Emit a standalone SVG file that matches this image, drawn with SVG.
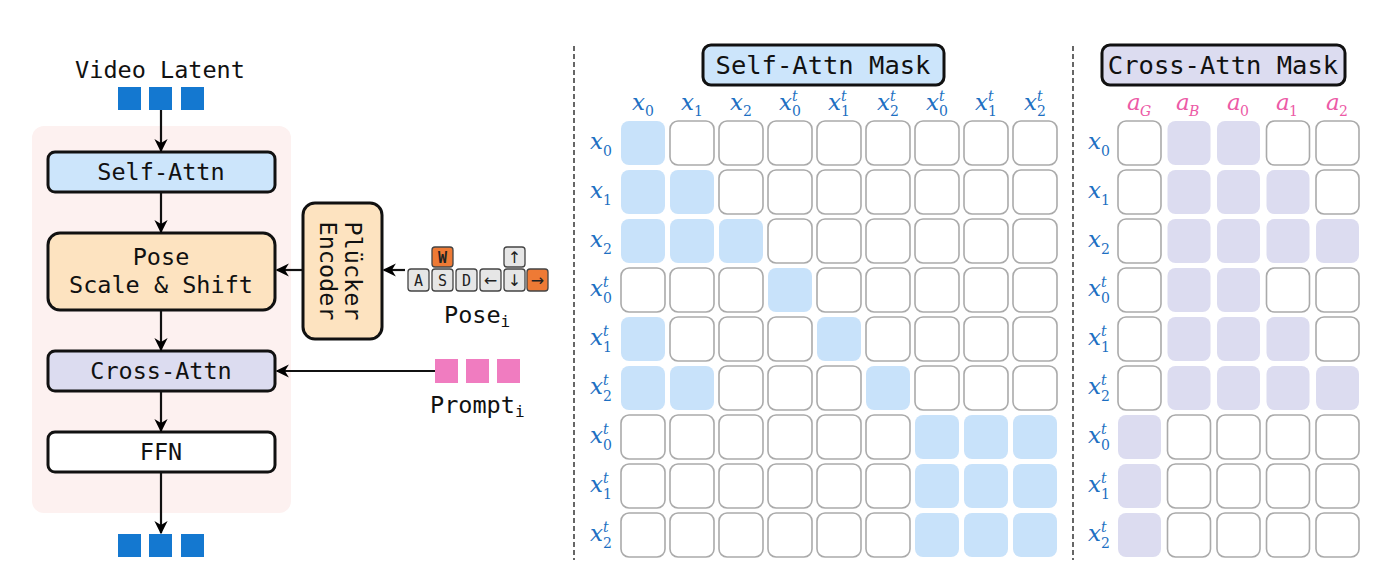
<svg xmlns="http://www.w3.org/2000/svg" width="1400" height="585" viewBox="0 0 1400 585">
<defs>
<marker id="ah" viewBox="0 0 10 10" refX="9" refY="5" markerWidth="6" markerHeight="6" orient="auto" markerUnits="strokeWidth">
<path d="M0,0 L10,5 L0,10 L3,5 Z" fill="#000"/>
</marker>
<style>
.mono{font-family:"DejaVu Sans Mono","Liberation Mono",monospace;fill:#111;}
.box{stroke:#111;stroke-width:3;}
.e{fill:#fff;stroke:#aaa;stroke-width:1.6;}
.s{fill:#c8e2fa;}
.c{fill:#dcdcf0;}
.m{font-family:"DejaVu Serif","Liberation Serif",serif;font-style:italic;font-size:23px;fill:#1d6fc2;}
.ms{font-family:"DejaVu Serif","Liberation Serif",serif;font-size:14px;fill:#1d6fc2;}
.mi{font-family:"DejaVu Serif","Liberation Serif",serif;font-style:italic;font-size:14px;fill:#1d6fc2;}
.p{font-family:"DejaVu Serif","Liberation Serif",serif;font-style:italic;font-size:23px;fill:#ec5aa6;}
.ps{font-family:"DejaVu Serif","Liberation Serif",serif;font-size:14px;fill:#ec5aa6;}
.pi{font-family:"DejaVu Serif","Liberation Serif",serif;font-style:italic;font-size:14px;fill:#ec5aa6;}
.key{fill:#e6e6e6;stroke:#444;stroke-width:1.3;}
.keyo{fill:#ee7a35;stroke:#444;stroke-width:1.3;}
.kt{font-family:"DejaVu Sans Mono","Liberation Mono",monospace;font-size:15px;fill:#222;text-anchor:middle;}
.ka{font-family:"DejaVu Sans","Liberation Sans",sans-serif;font-size:16px;fill:#222;text-anchor:middle;}
.dash{stroke:#666;stroke-width:2;stroke-dasharray:5 3;}
.conn{stroke:#111;stroke-width:2.2;fill:none;marker-end:url(#ah);}
</style>
</defs>
<rect width="1400" height="585" fill="#fff"/>

<rect x="32" y="126" width="259" height="387" rx="12" fill="#fdf1f0"/>

<g id="video-latent">
<text class="mono" x="160" y="78" font-size="23.5" text-anchor="middle">Video Latent</text>
<rect x="118" y="87" width="23" height="23" fill="#1478d0"/>
<rect x="149" y="87" width="23" height="23" fill="#1478d0"/>
<rect x="181" y="87" width="23" height="23" fill="#1478d0"/>
</g>

<g id="self-attn">
<rect class="box" x="48" y="152" width="227" height="40" rx="7" fill="#cce5fb"/>
<text class="mono" x="161" y="180" font-size="23.5" text-anchor="middle">Self-Attn</text>
</g>

<g id="pose-scale-shift">
<rect class="box" x="48" y="233" width="227" height="77" rx="12" fill="#fde3c0"/>
<text class="mono" x="161" y="265" font-size="23.5" text-anchor="middle">Pose</text>
<text class="mono" x="161" y="293" font-size="23.5" text-anchor="middle">Scale &amp; Shift</text>
</g>

<g id="cross-attn">
<rect class="box" x="48" y="351" width="227" height="40" rx="7" fill="#dcdcf0"/>
<text class="mono" x="161" y="379" font-size="23.5" text-anchor="middle">Cross-Attn</text>
</g>

<g id="ffn">
<rect class="box" x="48" y="432" width="227" height="40" rx="7" fill="#fff"/>
<text class="mono" x="161" y="460" font-size="23.5" text-anchor="middle">FFN</text>
</g>

<g id="output-latent">
<rect x="118" y="534" width="23" height="23" fill="#1478d0"/>
<rect x="149" y="534" width="23" height="23" fill="#1478d0"/>
<rect x="181" y="534" width="23" height="23" fill="#1478d0"/>
</g>

<g id="plucker-encoder">
<rect class="box" x="303" y="203" width="79" height="136" rx="12" fill="#fde3c0"/>
<text class="mono" font-size="23.5" text-anchor="middle" transform="translate(345,271) rotate(90)">Plücker</text>
<text class="mono" font-size="23.5" text-anchor="middle" transform="translate(320,271) rotate(90)">Encoder</text>
</g>

<g id="pose-input">
<rect class="keyo" x="432" y="247" width="21" height="20" rx="3"/>
<text class="kt" x="442.5" y="262.5" font-weight="bold">W</text>
<rect class="key" x="504" y="247" width="21" height="20" rx="3"/>
<text class="ka" x="514.5" y="263">↑</text>
<rect class="key" x="408" y="269" width="21" height="22" rx="3"/>
<text class="kt" x="418.5" y="285.5">A</text>
<rect class="key" x="432" y="269" width="21" height="22" rx="3"/>
<text class="kt" x="442.5" y="285.5">S</text>
<rect class="key" x="456" y="269" width="21" height="22" rx="3"/>
<text class="kt" x="466.5" y="285.5">D</text>
<rect class="key" x="480" y="269" width="21" height="22" rx="3"/>
<text class="ka" x="490.5" y="285.5">←</text>
<rect class="key" x="504" y="269" width="21" height="22" rx="3"/>
<text class="ka" x="514.5" y="286">↓</text>
<rect class="keyo" x="527" y="269" width="21" height="22" rx="3"/>
<text class="ka" x="537.5" y="285.5">→</text>
<text class="mono" x="444" y="323" font-size="23.5">Pose<tspan font-size="16" dy="4">i</tspan></text>
</g>

<g id="prompt-input">
<rect x="435" y="359" width="23" height="24" fill="#f07cc0"/>
<rect x="466" y="359" width="23" height="24" fill="#f07cc0"/>
<rect x="497" y="359" width="23" height="24" fill="#f07cc0"/>
<text class="mono" x="430" y="413" font-size="23.5">Prompt<tspan font-size="16" dy="4">i</tspan></text>
</g>

<g id="connectors">
<line class="conn" x1="161" y1="110" x2="161" y2="151"/>
<line class="conn" x1="161" y1="192" x2="161" y2="232"/>
<line class="conn" x1="161" y1="310" x2="161" y2="350"/>
<line class="conn" x1="161" y1="391" x2="161" y2="431"/>
<line class="conn" x1="161" y1="472" x2="161" y2="533"/>
<line class="conn" x1="303" y1="270" x2="277" y2="270"/>
<line class="conn" x1="405" y1="270" x2="384" y2="270"/>
<line class="conn" x1="435" y1="371" x2="277" y2="371"/>
</g>

<line class="dash" x1="574" y1="46" x2="574" y2="560"/>
<line class="dash" x1="1073" y1="46" x2="1073" y2="560"/>

<g id="self-attn-mask-title">
<rect class="box" x="703" y="45" width="241" height="40" rx="8" fill="#cce5fb"/>
<text class="mono" x="823" y="74" font-size="25.5" text-anchor="middle">Self-Attn Mask</text>
</g>
<g id="cross-attn-mask-title">
<rect class="box" x="1102" y="45" width="243" height="40" rx="8" fill="#dcdcf0"/>
<text class="mono" x="1223" y="74" font-size="25.5" text-anchor="middle">Cross-Attn Mask</text>
</g>

<g id="self-attn-grid">
<rect class="s" x="621" y="121" width="44" height="44" rx="8"/>
<rect class="e" x="670" y="121" width="44" height="44" rx="8"/>
<rect class="e" x="719" y="121" width="44" height="44" rx="8"/>
<rect class="e" x="768" y="121" width="44" height="44" rx="8"/>
<rect class="e" x="817" y="121" width="44" height="44" rx="8"/>
<rect class="e" x="866" y="121" width="44" height="44" rx="8"/>
<rect class="e" x="915" y="121" width="44" height="44" rx="8"/>
<rect class="e" x="964" y="121" width="44" height="44" rx="8"/>
<rect class="e" x="1013" y="121" width="44" height="44" rx="8"/>

<rect class="s" x="621" y="170" width="44" height="44" rx="8"/>
<rect class="s" x="670" y="170" width="44" height="44" rx="8"/>
<rect class="e" x="719" y="170" width="44" height="44" rx="8"/>
<rect class="e" x="768" y="170" width="44" height="44" rx="8"/>
<rect class="e" x="817" y="170" width="44" height="44" rx="8"/>
<rect class="e" x="866" y="170" width="44" height="44" rx="8"/>
<rect class="e" x="915" y="170" width="44" height="44" rx="8"/>
<rect class="e" x="964" y="170" width="44" height="44" rx="8"/>
<rect class="e" x="1013" y="170" width="44" height="44" rx="8"/>

<rect class="s" x="621" y="219" width="44" height="44" rx="8"/>
<rect class="s" x="670" y="219" width="44" height="44" rx="8"/>
<rect class="s" x="719" y="219" width="44" height="44" rx="8"/>
<rect class="e" x="768" y="219" width="44" height="44" rx="8"/>
<rect class="e" x="817" y="219" width="44" height="44" rx="8"/>
<rect class="e" x="866" y="219" width="44" height="44" rx="8"/>
<rect class="e" x="915" y="219" width="44" height="44" rx="8"/>
<rect class="e" x="964" y="219" width="44" height="44" rx="8"/>
<rect class="e" x="1013" y="219" width="44" height="44" rx="8"/>

<rect class="e" x="621" y="268" width="44" height="44" rx="8"/>
<rect class="e" x="670" y="268" width="44" height="44" rx="8"/>
<rect class="e" x="719" y="268" width="44" height="44" rx="8"/>
<rect class="s" x="768" y="268" width="44" height="44" rx="8"/>
<rect class="e" x="817" y="268" width="44" height="44" rx="8"/>
<rect class="e" x="866" y="268" width="44" height="44" rx="8"/>
<rect class="e" x="915" y="268" width="44" height="44" rx="8"/>
<rect class="e" x="964" y="268" width="44" height="44" rx="8"/>
<rect class="e" x="1013" y="268" width="44" height="44" rx="8"/>

<rect class="s" x="621" y="317" width="44" height="44" rx="8"/>
<rect class="e" x="670" y="317" width="44" height="44" rx="8"/>
<rect class="e" x="719" y="317" width="44" height="44" rx="8"/>
<rect class="e" x="768" y="317" width="44" height="44" rx="8"/>
<rect class="s" x="817" y="317" width="44" height="44" rx="8"/>
<rect class="e" x="866" y="317" width="44" height="44" rx="8"/>
<rect class="e" x="915" y="317" width="44" height="44" rx="8"/>
<rect class="e" x="964" y="317" width="44" height="44" rx="8"/>
<rect class="e" x="1013" y="317" width="44" height="44" rx="8"/>

<rect class="s" x="621" y="366" width="44" height="44" rx="8"/>
<rect class="s" x="670" y="366" width="44" height="44" rx="8"/>
<rect class="e" x="719" y="366" width="44" height="44" rx="8"/>
<rect class="e" x="768" y="366" width="44" height="44" rx="8"/>
<rect class="e" x="817" y="366" width="44" height="44" rx="8"/>
<rect class="s" x="866" y="366" width="44" height="44" rx="8"/>
<rect class="e" x="915" y="366" width="44" height="44" rx="8"/>
<rect class="e" x="964" y="366" width="44" height="44" rx="8"/>
<rect class="e" x="1013" y="366" width="44" height="44" rx="8"/>

<rect class="e" x="621" y="415" width="44" height="44" rx="8"/>
<rect class="e" x="670" y="415" width="44" height="44" rx="8"/>
<rect class="e" x="719" y="415" width="44" height="44" rx="8"/>
<rect class="e" x="768" y="415" width="44" height="44" rx="8"/>
<rect class="e" x="817" y="415" width="44" height="44" rx="8"/>
<rect class="e" x="866" y="415" width="44" height="44" rx="8"/>
<rect class="s" x="915" y="415" width="44" height="44" rx="8"/>
<rect class="s" x="964" y="415" width="44" height="44" rx="8"/>
<rect class="s" x="1013" y="415" width="44" height="44" rx="8"/>

<rect class="e" x="621" y="464" width="44" height="44" rx="8"/>
<rect class="e" x="670" y="464" width="44" height="44" rx="8"/>
<rect class="e" x="719" y="464" width="44" height="44" rx="8"/>
<rect class="e" x="768" y="464" width="44" height="44" rx="8"/>
<rect class="e" x="817" y="464" width="44" height="44" rx="8"/>
<rect class="e" x="866" y="464" width="44" height="44" rx="8"/>
<rect class="s" x="915" y="464" width="44" height="44" rx="8"/>
<rect class="s" x="964" y="464" width="44" height="44" rx="8"/>
<rect class="s" x="1013" y="464" width="44" height="44" rx="8"/>

<rect class="e" x="621" y="513" width="44" height="44" rx="8"/>
<rect class="e" x="670" y="513" width="44" height="44" rx="8"/>
<rect class="e" x="719" y="513" width="44" height="44" rx="8"/>
<rect class="e" x="768" y="513" width="44" height="44" rx="8"/>
<rect class="e" x="817" y="513" width="44" height="44" rx="8"/>
<rect class="e" x="866" y="513" width="44" height="44" rx="8"/>
<rect class="s" x="915" y="513" width="44" height="44" rx="8"/>
<rect class="s" x="964" y="513" width="44" height="44" rx="8"/>
<rect class="s" x="1013" y="513" width="44" height="44" rx="8"/>
</g>

<g id="cross-attn-grid">
<rect class="e" x="1118" y="121" width="43" height="44" rx="8"/>
<rect class="c" x="1167.5" y="121" width="43" height="44" rx="8"/>
<rect class="c" x="1217" y="121" width="43" height="44" rx="8"/>
<rect class="e" x="1266.5" y="121" width="43" height="44" rx="8"/>
<rect class="e" x="1316" y="121" width="43" height="44" rx="8"/>

<rect class="e" x="1118" y="170" width="43" height="44" rx="8"/>
<rect class="c" x="1167.5" y="170" width="43" height="44" rx="8"/>
<rect class="c" x="1217" y="170" width="43" height="44" rx="8"/>
<rect class="c" x="1266.5" y="170" width="43" height="44" rx="8"/>
<rect class="e" x="1316" y="170" width="43" height="44" rx="8"/>

<rect class="e" x="1118" y="219" width="43" height="44" rx="8"/>
<rect class="c" x="1167.5" y="219" width="43" height="44" rx="8"/>
<rect class="c" x="1217" y="219" width="43" height="44" rx="8"/>
<rect class="c" x="1266.5" y="219" width="43" height="44" rx="8"/>
<rect class="c" x="1316" y="219" width="43" height="44" rx="8"/>

<rect class="e" x="1118" y="268" width="43" height="44" rx="8"/>
<rect class="c" x="1167.5" y="268" width="43" height="44" rx="8"/>
<rect class="c" x="1217" y="268" width="43" height="44" rx="8"/>
<rect class="e" x="1266.5" y="268" width="43" height="44" rx="8"/>
<rect class="e" x="1316" y="268" width="43" height="44" rx="8"/>

<rect class="e" x="1118" y="317" width="43" height="44" rx="8"/>
<rect class="c" x="1167.5" y="317" width="43" height="44" rx="8"/>
<rect class="c" x="1217" y="317" width="43" height="44" rx="8"/>
<rect class="c" x="1266.5" y="317" width="43" height="44" rx="8"/>
<rect class="e" x="1316" y="317" width="43" height="44" rx="8"/>

<rect class="e" x="1118" y="366" width="43" height="44" rx="8"/>
<rect class="c" x="1167.5" y="366" width="43" height="44" rx="8"/>
<rect class="c" x="1217" y="366" width="43" height="44" rx="8"/>
<rect class="c" x="1266.5" y="366" width="43" height="44" rx="8"/>
<rect class="c" x="1316" y="366" width="43" height="44" rx="8"/>

<rect class="c" x="1118" y="415" width="43" height="44" rx="8"/>
<rect class="e" x="1167.5" y="415" width="43" height="44" rx="8"/>
<rect class="e" x="1217" y="415" width="43" height="44" rx="8"/>
<rect class="e" x="1266.5" y="415" width="43" height="44" rx="8"/>
<rect class="e" x="1316" y="415" width="43" height="44" rx="8"/>

<rect class="c" x="1118" y="464" width="43" height="44" rx="8"/>
<rect class="e" x="1167.5" y="464" width="43" height="44" rx="8"/>
<rect class="e" x="1217" y="464" width="43" height="44" rx="8"/>
<rect class="e" x="1266.5" y="464" width="43" height="44" rx="8"/>
<rect class="e" x="1316" y="464" width="43" height="44" rx="8"/>

<rect class="c" x="1118" y="513" width="43" height="44" rx="8"/>
<rect class="e" x="1167.5" y="513" width="43" height="44" rx="8"/>
<rect class="e" x="1217" y="513" width="43" height="44" rx="8"/>
<rect class="e" x="1266.5" y="513" width="43" height="44" rx="8"/>
<rect class="e" x="1316" y="513" width="43" height="44" rx="8"/>
</g>

<g id="self-col-labels">
<text class="m" x="632" y="110">x</text><text class="ms" x="645" y="116">0</text>
<text class="m" x="681" y="110">x</text><text class="ms" x="694" y="116">1</text>
<text class="m" x="730" y="110">x</text><text class="ms" x="743" y="116">2</text>
<text class="m" x="779" y="110">x</text><text class="mi" x="792" y="101">t</text><text class="ms" x="792" y="116">0</text>
<text class="m" x="828" y="110">x</text><text class="mi" x="841" y="101">t</text><text class="ms" x="841" y="116">1</text>
<text class="m" x="877" y="110">x</text><text class="mi" x="890" y="101">t</text><text class="ms" x="890" y="116">2</text>
<text class="m" x="926" y="110">x</text><text class="mi" x="939" y="101">t</text><text class="ms" x="939" y="116">0</text>
<text class="m" x="975" y="110">x</text><text class="mi" x="988" y="101">t</text><text class="ms" x="988" y="116">1</text>
<text class="m" x="1024" y="110">x</text><text class="mi" x="1037" y="101">t</text><text class="ms" x="1037" y="116">2</text>
</g>

<g id="self-row-labels">
<text class="m" x="590" y="149">x</text><text class="ms" x="603" y="156">0</text>
<text class="m" x="590" y="198">x</text><text class="ms" x="603" y="205">1</text>
<text class="m" x="590" y="247">x</text><text class="ms" x="603" y="254">2</text>
<text class="m" x="590" y="296">x</text><text class="mi" x="603" y="287">t</text><text class="ms" x="603" y="303">0</text>
<text class="m" x="590" y="345">x</text><text class="mi" x="603" y="336">t</text><text class="ms" x="603" y="352">1</text>
<text class="m" x="590" y="394">x</text><text class="mi" x="603" y="385">t</text><text class="ms" x="603" y="401">2</text>
<text class="m" x="590" y="443">x</text><text class="mi" x="603" y="434">t</text><text class="ms" x="603" y="450">0</text>
<text class="m" x="590" y="492">x</text><text class="mi" x="603" y="483">t</text><text class="ms" x="603" y="499">1</text>
<text class="m" x="590" y="541">x</text><text class="mi" x="603" y="532">t</text><text class="ms" x="603" y="548">2</text>
</g>

<g id="cross-col-labels">
<text class="p" x="1127" y="110">a</text><text class="pi" x="1140" y="116">G</text>
<text class="p" x="1176" y="110">a</text><text class="pi" x="1189" y="116">B</text>
<text class="p" x="1227" y="110">a</text><text class="ps" x="1240" y="116">0</text>
<text class="p" x="1276" y="110">a</text><text class="ps" x="1289" y="116">1</text>
<text class="p" x="1326" y="110">a</text><text class="ps" x="1339" y="116">2</text>
</g>

<g id="cross-row-labels">
<text class="m" x="1088" y="149">x</text><text class="ms" x="1101" y="156">0</text>
<text class="m" x="1088" y="198">x</text><text class="ms" x="1101" y="205">1</text>
<text class="m" x="1088" y="247">x</text><text class="ms" x="1101" y="254">2</text>
<text class="m" x="1088" y="296">x</text><text class="mi" x="1101" y="287">t</text><text class="ms" x="1101" y="303">0</text>
<text class="m" x="1088" y="345">x</text><text class="mi" x="1101" y="336">t</text><text class="ms" x="1101" y="352">1</text>
<text class="m" x="1088" y="394">x</text><text class="mi" x="1101" y="385">t</text><text class="ms" x="1101" y="401">2</text>
<text class="m" x="1088" y="443">x</text><text class="mi" x="1101" y="434">t</text><text class="ms" x="1101" y="450">0</text>
<text class="m" x="1088" y="492">x</text><text class="mi" x="1101" y="483">t</text><text class="ms" x="1101" y="499">1</text>
<text class="m" x="1088" y="541">x</text><text class="mi" x="1101" y="532">t</text><text class="ms" x="1101" y="548">2</text>
</g>
</svg>
